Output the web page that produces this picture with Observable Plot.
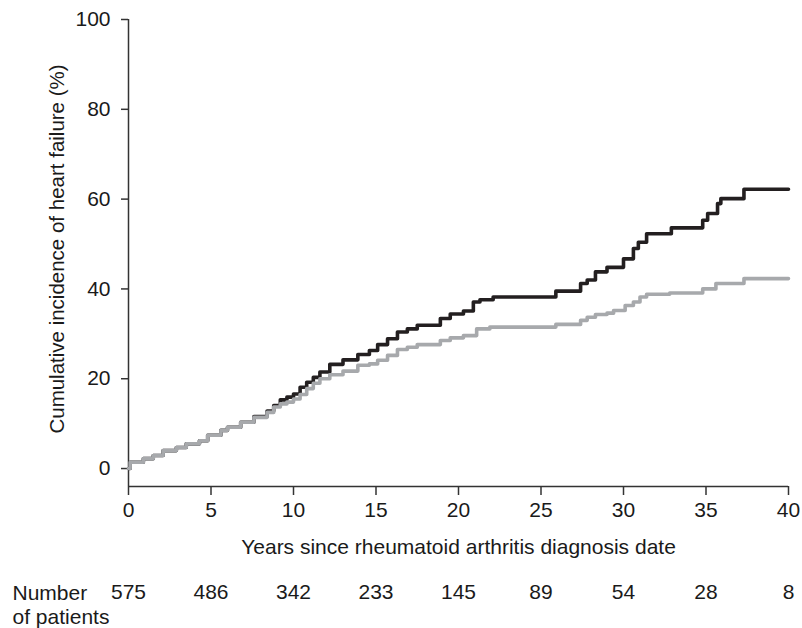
<!DOCTYPE html>
<html>
<head>
<meta charset="utf-8">
<script src="https://cdn.jsdelivr.net/npm/d3@7"></script>
<script src="https://cdn.jsdelivr.net/npm/@observablehq/plot@0.6"></script>
<style>
  html, body { margin: 0; padding: 0; background: #fff; }
  #chart { width: 802px; height: 628px; }
</style>
</head>
<body>
<div id="chart"></div>
<script>
// Series 1 (black)
const blackYears = [0, 0.1, 0.9, 1.5, 2.1, 2.9, 3.5, 4.3, 4.8, 5.6, 6.0, 6.8, 7.6, 8.4, 8.8, 9.2, 9.6, 10.0, 10.4, 10.8, 11.2, 11.6, 12.2, 13.0, 13.9, 14.6, 15.1, 15.7, 16.3, 16.9, 17.5, 18.9, 19.5, 20.3, 20.9, 21.3, 22.1, 25.9, 27.4, 27.8, 28.3, 29.0, 30.0, 30.6, 30.9, 31.4, 32.9, 34.8, 35.1, 35.7, 35.9, 37.3, 40];
const blackPct   = [0, 1.4, 2.2, 2.9, 4.0, 4.7, 5.5, 6.2, 7.4, 8.5, 9.2, 10.3, 11.6, 12.8, 14.0, 15.3, 15.9, 16.6, 18.1, 19.2, 20.3, 21.5, 23.2, 24.2, 25.4, 26.3, 27.6, 28.9, 30.4, 31.1, 31.9, 33.4, 34.4, 35.1, 37.1, 37.6, 38.2, 39.5, 41.2, 42.0, 43.8, 44.8, 46.7, 49.0, 50.4, 52.3, 53.6, 55.3, 56.8, 59.0, 60.1, 62.2, 62.2];
// Series 2 (grey)
const grayYears = [0, 0.1, 0.9, 1.5, 2.1, 2.9, 3.5, 4.3, 4.8, 5.6, 6.0, 6.8, 7.6, 8.4, 8.8, 9.2, 9.6, 10.0, 10.4, 10.8, 11.2, 11.6, 12.2, 13.0, 13.9, 14.6, 15.1, 15.7, 16.3, 16.9, 17.5, 18.9, 19.5, 20.3, 21.1, 21.9, 25.9, 27.4, 27.8, 28.3, 29.0, 29.4, 30.1, 30.6, 31.0, 31.4, 32.8, 34.8, 35.6, 37.3, 40];
const grayPct   = [0, 1.4, 2.2, 2.9, 4.0, 4.7, 5.5, 6.2, 7.4, 8.5, 9.2, 10.3, 11.4, 12.5, 13.7, 14.4, 14.8, 15.5, 16.5, 17.8, 19.0, 20.0, 20.9, 21.7, 23.0, 23.3, 24.1, 25.2, 26.5, 27.0, 27.6, 28.5, 29.1, 29.6, 31.1, 31.5, 32.1, 33.0, 33.7, 34.3, 34.6, 35.2, 36.3, 37.1, 38.2, 38.8, 39.1, 40.0, 41.2, 42.3, 42.3];

const xTicks = [0, 5, 10, 15, 20, 25, 30, 35, 40];
const yTicks = [0, 20, 40, 60, 80, 100];
const riskYears = [0, 5, 10, 15, 20, 25, 30, 35, 40];
const riskCounts = [575, 486, 342, 233, 145, 89, 54, 28, 8];

const xLabel = "Years since rheumatoid arthritis diagnosis date";
const yLabel = "Cumulative incidence of heart failure (%)";
const riskLabel = "Number\nof patients";

const blackData = blackYears.map((t, i) => ({t, v: blackPct[i]}));
const grayData = grayYears.map((t, i) => ({t, v: grayPct[i]}));

const axisColor = "#333";
const textColor = "#1a1a1a";
const fs = 21;
const font = "'Liberation Sans', Arial, Helvetica, sans-serif";

const chart = Plot.plot({
  width: 802,
  height: 628,
  marginLeft: 128,
  marginRight: 14,
  marginTop: 19,
  marginBottom: 142,
  style: {fontFamily: font, fontSize: fs + "px", color: textColor, background: "#fff"},
  x: {domain: [0, 40]},
  y: {domain: [-4, 100]},
  marks: [
    Plot.ruleX([0], {y1: -4, y2: 100, stroke: axisColor, strokeWidth: 1.5}),
    Plot.ruleY([-4], {x1: 0, x2: 40, stroke: axisColor, strokeWidth: 1.5}),
    Plot.axisY({ticks: yTicks, tickSize: 7, tickPadding: 11, fontSize: fs, label: null, stroke: axisColor, strokeWidth: 1.5}),
    Plot.axisX({ticks: xTicks, tickSize: 9, tickPadding: 7, fontSize: fs, label: null, stroke: axisColor, strokeWidth: 1.5}),
    Plot.line(blackData, {x: "t", y: "v", curve: "step-after", stroke: "#231f20", strokeWidth: 3.6}),
    Plot.line(grayData, {x: "t", y: "v", curve: "step-after", stroke: "#a7a9ac", strokeWidth: 3.6}),
    Plot.text([xLabel], {text: d => d, frameAnchor: "bottom", dy: 67, fontSize: fs, fill: textColor}),
    Plot.text([yLabel], {text: d => d, frameAnchor: "left", textAnchor: "middle", rotate: -90, dx: -71, dy: -4, fontSize: 20.5, fill: textColor}),
    Plot.text(riskCounts, {x: riskYears, text: d => String(d), frameAnchor: "bottom", dy: 112, fontSize: fs, fill: textColor}),
    Plot.text([riskLabel], {text: d => d, frameAnchor: "bottom-left", dx: -116, dy: 96, textAnchor: "start", lineAnchor: "top", lineHeight: 1.15, fontSize: fs, fill: textColor})
  ]
});
document.getElementById("chart").appendChild(chart);
</script>
</body>
</html>
